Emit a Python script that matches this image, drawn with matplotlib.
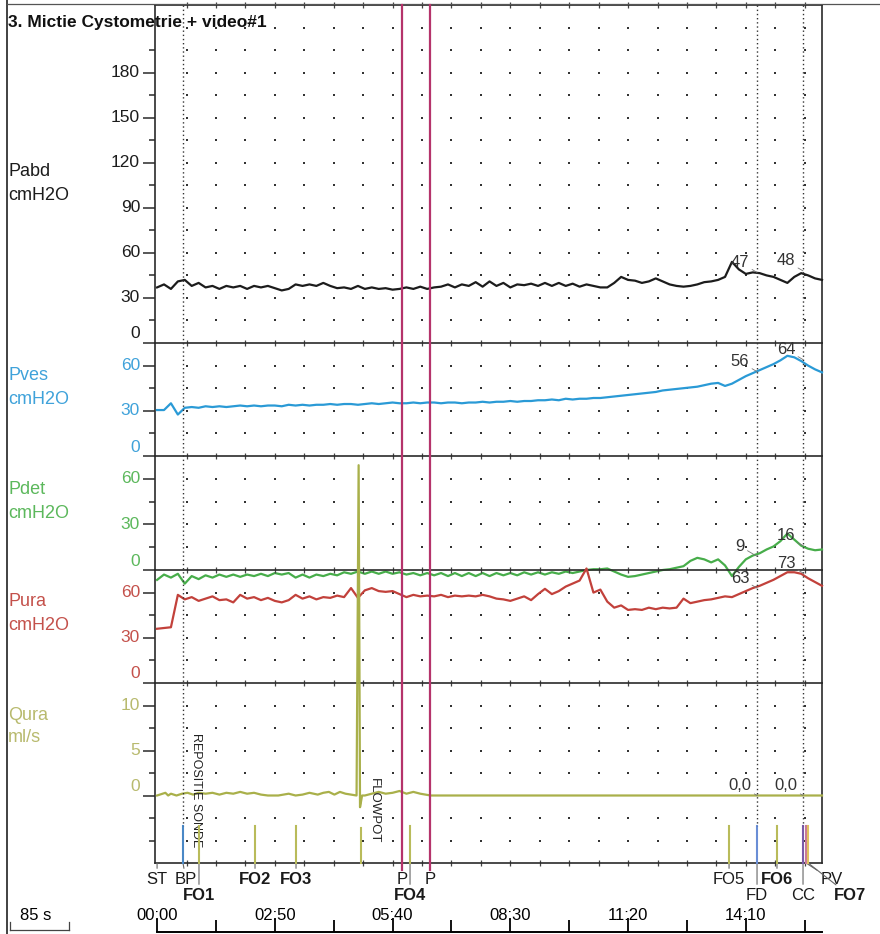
import numpy as np
import matplotlib.pyplot as plt
from matplotlib.lines import Line2D
from matplotlib.transforms import blended_transform_factory

plt.rcParams['font.family'] = ['Liberation Sans', 'DejaVu Sans']

# ---- traces, one sample every 10 s (0 .. 960 s) ----
t_s = np.arange(0, 961, 10)

pabd = [37, 39, 36, 41, 42, 38, 40, 37, 38, 36,
        38, 37, 38, 36, 38, 37, 38, 36.5, 35, 36,
        39, 38, 39, 38, 40, 38, 36.5, 37, 36, 38,
        36, 37, 36, 36.5, 35.5, 36, 37, 36, 37.5, 36,
        37, 37.5, 39, 37, 39, 38, 40.5, 37.5, 41, 38,
        40, 37, 39, 38.5, 39.5, 38, 40, 38, 40, 38,
        39.5, 37.5, 39, 38, 37, 37, 40, 44, 42, 41.5,
        40, 41, 43, 41, 39, 38, 37.5, 38, 39, 40.5,
        41, 42, 44, 54, 49, 46, 47, 46.5, 45, 44,
        42, 40, 44, 46.5, 45, 43, 42]

pves = [30.5, 30.5, 35, 27.5, 32, 32.5, 32, 33, 32.5, 33,
        32.5, 33, 33.5, 33, 33.5, 33, 33.5, 33.5, 33, 34,
        33.5, 34, 33.5, 34, 34, 34.5, 34, 34.5, 34.5, 34,
        34.5, 35, 34.5, 35, 35.5, 35, 35, 35.5, 35, 35.5,
        35.5, 35, 35.5, 35.5, 35, 35.5, 35.5, 36, 35.5, 36,
        36, 36.5, 36, 36.5, 36.5, 37, 37, 37.5, 37, 38,
        37.5, 38, 38, 38.5, 38.5, 39, 39.5, 40, 40.5, 41,
        41.5, 42, 42.5, 43.5, 44, 44.5, 45, 45.5, 46, 47,
        48, 48.5, 46.5, 48, 50.5, 53, 55, 57, 59, 61,
        63.5, 66.5, 65.5, 63, 60, 57.5, 55.5]

pdet = [-6.5, -3, -5, -2.5, -9, -4, -6, -3.5, -5, -3,
        -4.5, -3, -4.5, -3, -4, -2.5, -4, -2, -3, -2,
        -5, -3, -5, -3, -4, -2.5, -3.5, -1.5, -2.5, -1,
        -2.5, -1, -2.5, -1, -2.5, -1.5, -3, -2, -3.5, -2,
        -3.5, -2, -4, -2, -4, -2, -4, -2, -4, -2,
        -3.5, -2, -3.5, -1.5, -3, -1.5, -3, -1.5, -2.5, -1,
        -2, -1, 0, 0.5, 0.5, 1, -1, -3, -4.5, -4,
        -3, -2, -1, 0, 0.5, 1.5, 2.5, 6, 8, 7,
        5, 7, 3, -4, 2, 7, 9.5, 11, 13.5, 15.5,
        19, 24, 20, 16, 14, 13, 13.5]

pura = [36, 36.5, 37, 58.5, 55.5, 57, 54.5, 56, 57.5, 55,
        55.5, 53.5, 58.5, 56, 57, 55, 56.5, 54.5, 53.5, 55,
        58.5, 56, 57.5, 55.5, 57, 56.5, 58, 57, 63, 56.5,
        61.5, 63, 61, 60.5, 61, 59, 57, 58.5, 57.5, 58,
        57.5, 58.5, 57, 58, 57.5, 58, 57.5, 58.5, 57.5, 56,
        55.5, 54.5, 56, 57.5, 55, 59, 62.5, 59, 61, 64,
        66, 68, 76, 60, 62, 54, 50, 51.5, 48.5, 49,
        48.5, 50, 49, 50, 49.5, 50, 56, 53, 54, 55,
        55.5, 56.5, 57.5, 57, 59, 61, 63, 64.5, 66.5, 68.5,
        71, 73.5, 73.5, 72.5, 69.5, 67, 64.5]

# flow: flat with small blips and the flowpot artefact
qura_t = [0, 12, 16, 20, 28, 36, 44, 52, 60, 70,
          80, 90, 100, 110, 120, 130, 140, 150, 160, 175,
          190, 200, 210, 220, 232, 240, 248, 256, 264, 272,
          280, 288, 291, 293, 296, 300, 310, 320, 330, 340,
          350, 360, 370, 380, 395, 960]
qura = [0, 0.3, 0, 0.2, 0, 0.2, 0.3, 0.1, 0.3, 0.2,
        0.3, 0.1, 0.3, 0.2, 0.4, 0.2, 0.3, 0.1, 0, 0,
        0.2, 0, 0.1, 0.3, 0.1, 0.3, 0.4, 0.1, 0.4, 0.2,
        0.1, 0, 36.7, -1.3, 0, 0, 0.2, 0.4, 0.2, 0.3,
        0.5, 0.2, 0.4, 0.2, 0, 0]

time_ticks = [0, 170, 340, 510, 680, 850]
time_labels = ['00:00', '02:50', '05:40', '08:30', '11:20', '14:10']

event_names = ['ST', 'BP', 'FO1', 'FO2', 'FO3', 'P', 'FO4', 'P',
               'FO5', 'FD', 'FO6', 'CC', 'PV', 'FO7']
event_times = [0, 37.4, 60.5, 141.4, 200.6, 353.6, 365.2, 394,
               825.8, 866.2, 895, 932.6, 937, 940]
flowpot_t = 294.4

fd_t, cc_t = 866.2, 932.6
fd_values = [47, 56, 9, 63, 0.0]
cc_values = [48, 64, 16, 73, 0.0]

# ---- layout (pixels of the 880x934 page) ----
W, H = 880, 934
X0, X1 = 155, 822
XLIM = (-3, 960)


def fx(px):
    return px / W


def fy(py):
    return 1 - py / H


fig = plt.figure(figsize=(W / 100, H / 100), dpi=100)

dot_cols = np.arange(42.5, 940, 42.5)
spec = [
    # name, unit, top, bottom, ylim, majors, minors, dot rows, line colour, text colour, label y
    ('Pabd', 'cmH2O', 5, 343, (0, 225), list(range(0, 181, 30)), list(range(15, 196, 30)),
     list(range(15, 211, 15)), '#1c1c1c', '#1c1c1c', 172),
    ('Pves', 'cmH2O', 343, 456, (0, 75), [0, 30, 60], [15, 45],
     [15, 30, 45, 60], '#2a9ad6', '#3fa2da', 376),
    ('Pdet', 'cmH2O', 456, 570, (0, 75), [0, 30, 60], [15, 45],
     [15, 30, 45, 60], '#47ad4a', '#5cb85c', 490),
    ('Pura', 'cmH2O', 570, 683, (0, 75), [0, 30, 60], [15, 45],
     [15, 30, 45, 60], '#c2413b', '#c4514b', 602),
    ('Qura', 'ml/s', 683, 863, (-7.5, 12.5), [0, 5, 10], [-5, -2.5, 2.5, 7.5],
     [-5, -2.5, 2.5, 5, 7.5, 10], '#a9b04a', '#b8ba6e', 715),
]
series = {'Pabd': (t_s, pabd), 'Pves': (t_s, pves), 'Pdet': (t_s, pdet),
          'Pura': (t_s, pura), 'Qura': (qura_t, qura)}

axes = {}
for i, (name, unit, top, bot, ylim, majors, minors, rows, col, tcol, ly) in enumerate(spec):
    ax = fig.add_axes([fx(X0), fy(bot), fx(X1) - fx(X0), (bot - top) / H])
    ax.set_xlim(*XLIM)
    ax.set_ylim(*ylim)
    ax.patch.set_visible(False)
    for s in ['top', 'left', 'right', 'bottom']:
        ax.spines[s].set_color('#2a2a2a')
        ax.spines[s].set_linewidth(1.2)
    ax.spines['bottom'].set_visible(name == 'Qura')
    ax.set_yticks(majors)
    ax.set_yticks(minors, minor=True)
    ax.tick_params(axis='y', which='major', length=8.5, width=1.1, color='#2a2a2a', labelleft=False)
    ax.tick_params(axis='y', which='minor', length=4.5, width=1.1, color='#2a2a2a')
    ax.set_xticks(dot_cols)
    ax.tick_params(axis='x', which='major', direction='inout', length=4, width=0.9,
                   color='#444', top=True, bottom=(name == 'Qura'),
                   labelbottom=False, labeltop=False)
    gx, gy = np.meshgrid(dot_cols, rows)
    ax.scatter(gx.ravel(), gy.ravel(), s=3.5, c='#333', marker='s', linewidths=0, zorder=1)

    for v in majors:
        ax.annotate(str(v), xy=(0, v), xycoords=ax.get_yaxis_transform(),
                    xytext=(-15, 9 if v == 0 else 0), textcoords='offset pixels',
                    ha='right', va='center', fontsize=12.5, color=tcol, annotation_clip=False)
    fig.text(fx(8), fy(ly), name, fontsize=13, color=tcol, va='center')
    fig.text(fx(8), fy(ly + 23), unit, fontsize=13, color=tcol, va='center')

    tt, vv = series[name]
    ax.plot(tt, vv, color=col, lw=1.6, clip_on=False, zorder=6)

    # values at FD and CC
    for t_ev, val in ((fd_t, fd_values[i]), (cc_t, cc_values[i])):
        txt = f'{val:.1f}'.replace('.', ',') if name == 'Qura' else str(val)
        ax.annotate(txt, xy=(t_ev, val), xytext=(-17, 10), textcoords='offset pixels',
                    ha='center', va='center', fontsize=12, color='#333',
                    arrowprops=dict(arrowstyle='-', color='#777', lw=0.6,
                                    shrinkA=0, shrinkB=0),
                    annotation_clip=False, zorder=8)
    axes[name] = ax

ax_q = axes['Qura']
trans = blended_transform_factory(ax_q.transData, fig.transFigure)

# notes written along the flow channel
ax_q.text(56, 0.6, 'REPOSITIE SONDE', rotation=-90, ha='center', va='center',
          fontsize=9, color='#222', zorder=9)
ax_q.text(313, -1.7, 'FLOWPOT', rotation=-90, ha='center', va='center',
          fontsize=9.5, color='#222', zorder=9)

# event markers
ev_style = {
    'ST': (None, 1, 0, False), 'BP': ('#4a88c6', 1, 3, False), 'FO1': ('#b9bb5a', 2, 0, True),
    'FO2': ('#b9bb5a', 1, 0, True), 'FO3': ('#b9bb5a', 1, 0, True), 'P': ('#b5336b', 1, 0, False),
    'FO4': ('#b9bb5a', 2, 0, True), 'FO5': ('#b9bb5a', 1, 0, False), 'FD': ('#6a8ed6', 2, 0, False),
    'FO6': ('#b9bb5a', 1, 0, True), 'CC': ('#7a5aa8', 2, 0, False), 'PV': ('#c87898', 1, 26, False),
    'FO7': ('#e0c060', 2, 42, True),
}
for name, t in zip(event_names, event_times):
    col, row, dx, bold = ev_style[name]
    if name == 'P':
        fig.add_artist(Line2D([t, t], [fy(5), fy(870)], transform=trans, color=col, lw=1.6, zorder=7))
    elif col is not None:
        fig.add_artist(Line2D([t, t], [fy(826), fy(863)], transform=trans, color=col, lw=1.5, zorder=7))
    ly = 880 if row == 1 else 896
    ax_q.annotate(name, xy=(t, fy(863)), xycoords=trans, xytext=(dx, -(ly - 863)),
                  textcoords='offset pixels', ha='center', va='center', fontsize=12,
                  fontweight='bold' if bold else 'normal', color='#1a1a1a',
                  arrowprops=dict(arrowstyle='-', color='#666', lw=0.8, shrinkA=1, shrinkB=0),
                  annotation_clip=False)
fig.add_artist(Line2D([flowpot_t, flowpot_t], [fy(828), fy(863)], transform=trans,
                      color='#b9bb5a', lw=1.5, zorder=7))

# dotted cursors at BP, FD and CC
for t in (event_times[1], fd_t, cc_t):
    fig.add_artist(Line2D([t, t], [fy(5), fy(826)], transform=trans, color='#333',
                          lw=1.0, ls=(0, (1, 2)), zorder=7))

# time axis at the bottom
ax_t = fig.add_axes([fx(X0), fy(932), fx(X1) - fx(X0), 20 / H])
ax_t.set_xlim(*XLIM)
ax_t.patch.set_visible(False)
for s in ['top', 'left', 'right']:
    ax_t.spines[s].set_visible(False)
ax_t.spines['bottom'].set_linewidth(1.4)
ax_t.spines['bottom'].set_bounds(0, 960)
ax_t.set_yticks([])
ax_t.set_xticks(time_ticks)
ax_t.set_xticks([t + 85 for t in time_ticks], minor=True)
ax_t.tick_params(axis='x', which='major', direction='in', length=10, width=1.3, labelbottom=False)
ax_t.tick_params(axis='x', which='minor', direction='in', length=9, width=1.3)
trans_t = blended_transform_factory(ax_t.transData, fig.transFigure)
for t, lab in zip(time_ticks, time_labels):
    fig.text(t, fy(916), lab, transform=trans_t, ha='center', va='center', fontsize=12)

# scale bar and page frame
fig.text(fx(20), fy(916), '85 s', ha='left', va='center', fontsize=12)
fig.add_artist(Line2D([fx(10), fx(69)], [fy(930), fy(930)], color='#444', lw=0.9))
fig.add_artist(Line2D([fx(10), fx(10)], [fy(922), fy(930)], color='#444', lw=0.9))
fig.add_artist(Line2D([fx(69), fx(69)], [fy(922), fy(930)], color='#444', lw=0.9))
fig.add_artist(Line2D([fx(7), fx(7)], [fy(0), fy(934)], color='#333', lw=1.3))
fig.add_artist(Line2D([fx(7), fx(880)], [fy(4), fy(4)], color='#555', lw=0.9))

fig.text(fx(8), fy(22), '3. Mictie Cystometrie + video#1', fontsize=12.5, fontweight='bold',
         va='center', color='#111')

fig.savefig('out.png', dpi=100)
